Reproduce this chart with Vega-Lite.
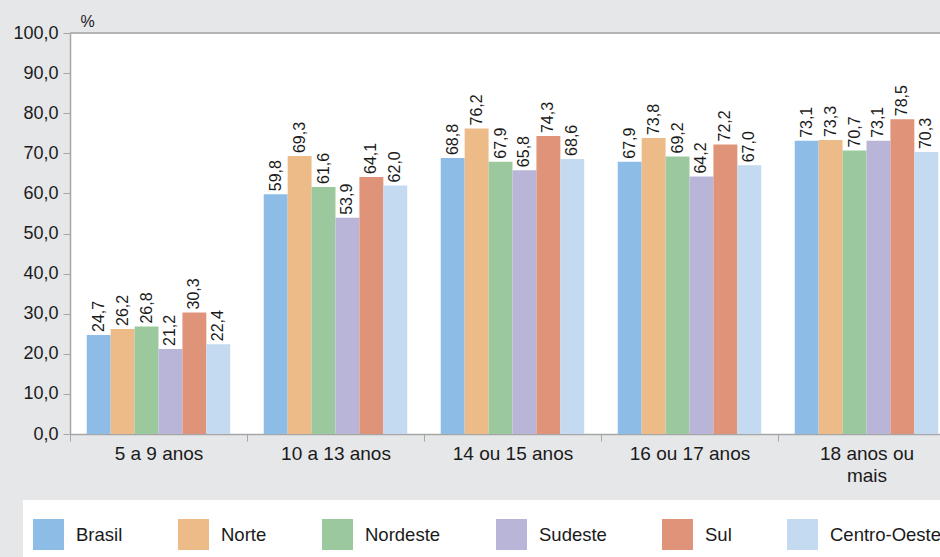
{
  "$schema": "https://vega.github.io/schema/vega-lite/v6.json",
  "width": 870,
  "height": 401,
  "autosize": {"type": "none"},
  "padding": {"left": 70, "top": 33, "right": 0, "bottom": 123},
  "background": "#e6e7e9",
  "config": {
    "locale": {"number": {"decimal": ",", "thousands": ".", "grouping": [3], "currency": ["R$", ""]}},
    "view": {"fill": "white", "stroke": null},
    "font": "Liberation Sans"
  },
  "data": {
    "values": [
      {"idade": "5 a 9 anos", "regiao": "Brasil", "valor": 24.7},
      {"idade": "5 a 9 anos", "regiao": "Norte", "valor": 26.2},
      {"idade": "5 a 9 anos", "regiao": "Nordeste", "valor": 26.8},
      {"idade": "5 a 9 anos", "regiao": "Sudeste", "valor": 21.2},
      {"idade": "5 a 9 anos", "regiao": "Sul", "valor": 30.3},
      {"idade": "5 a 9 anos", "regiao": "Centro-Oeste", "valor": 22.4},
      {"idade": "10 a 13 anos", "regiao": "Brasil", "valor": 59.8},
      {"idade": "10 a 13 anos", "regiao": "Norte", "valor": 69.3},
      {"idade": "10 a 13 anos", "regiao": "Nordeste", "valor": 61.6},
      {"idade": "10 a 13 anos", "regiao": "Sudeste", "valor": 53.9},
      {"idade": "10 a 13 anos", "regiao": "Sul", "valor": 64.1},
      {"idade": "10 a 13 anos", "regiao": "Centro-Oeste", "valor": 62.0},
      {"idade": "14 ou 15 anos", "regiao": "Brasil", "valor": 68.8},
      {"idade": "14 ou 15 anos", "regiao": "Norte", "valor": 76.2},
      {"idade": "14 ou 15 anos", "regiao": "Nordeste", "valor": 67.9},
      {"idade": "14 ou 15 anos", "regiao": "Sudeste", "valor": 65.8},
      {"idade": "14 ou 15 anos", "regiao": "Sul", "valor": 74.3},
      {"idade": "14 ou 15 anos", "regiao": "Centro-Oeste", "valor": 68.6},
      {"idade": "16 ou 17 anos", "regiao": "Brasil", "valor": 67.9},
      {"idade": "16 ou 17 anos", "regiao": "Norte", "valor": 73.8},
      {"idade": "16 ou 17 anos", "regiao": "Nordeste", "valor": 69.2},
      {"idade": "16 ou 17 anos", "regiao": "Sudeste", "valor": 64.2},
      {"idade": "16 ou 17 anos", "regiao": "Sul", "valor": 72.2},
      {"idade": "16 ou 17 anos", "regiao": "Centro-Oeste", "valor": 67.0},
      {"idade": "18 anos ou mais", "regiao": "Brasil", "valor": 73.1},
      {"idade": "18 anos ou mais", "regiao": "Norte", "valor": 73.3},
      {"idade": "18 anos ou mais", "regiao": "Nordeste", "valor": 70.7},
      {"idade": "18 anos ou mais", "regiao": "Sudeste", "valor": 73.1},
      {"idade": "18 anos ou mais", "regiao": "Sul", "valor": 78.5},
      {"idade": "18 anos ou mais", "regiao": "Centro-Oeste", "valor": 70.3}
    ]
  },
  "encoding": {
    "x": {
      "field": "idade",
      "type": "nominal",
      "sort": ["5 a 9 anos", "10 a 13 anos", "14 ou 15 anos", "16 ou 17 anos", "18 anos ou mais"],
      "scale": {"range": [0, 885], "paddingInner": 0, "paddingOuter": 0},
      "axis": {
        "title": null,
        "labelAngle": 0,
        "labelFontSize": 19,
        "labelColor": "#1a1a1a",
        "labelPadding": 3,
        "labelLineHeight": 22,
        "labelBaseline": "top",
        "tickOffset": -88.5,
        "labelOffset": 88.5,
        "tickSize": 7,
        "tickColor": "#a6a6a6",
        "domainColor": "#a6a6a6",
        "domainWidth": 1.5,
        "labelExpr": "datum.value == '18 anos ou mais' ? ['18 anos ou', 'mais'] : datum.label"
      }
    },
    "xOffset": {
      "field": "regiao",
      "type": "nominal",
      "sort": ["Brasil", "Norte", "Nordeste", "Sudeste", "Sul", "Centro-Oeste"],
      "scale": {"paddingOuter": 0.7, "paddingInner": 0}
    },
    "y": {
      "field": "valor",
      "type": "quantitative",
      "scale": {"domain": [0, 100], "nice": false},
      "axis": {
        "values": [0, 10, 20, 30, 40, 50, 60, 70, 80, 90, 100],
        "format": ".1f",
        "grid": false,
        "labelFontSize": 18,
        "labelColor": "#1a1a1a",
        "labelPadding": 5,
        "tickSize": 7,
        "tickColor": "#a6a6a6",
        "domainColor": "#a6a6a6",
        "domainWidth": 1.5,
        "title": "%",
        "titleAngle": 0,
        "titleAlign": "left",
        "titleBaseline": "alphabetic",
        "titleX": 10,
        "titleY": -7,
        "titleFontSize": 16,
        "titleFontWeight": "normal",
        "titleColor": "#1a1a1a"
      }
    }
  },
  "layer": [
    {
      "mark": {"type": "rule", "color": "#b3b3b3", "strokeWidth": 1.5},
      "encoding": {"x": null, "xOffset": null, "y": {"datum": 100}}
    },
    {
      "mark": {"type": "bar"},
      "encoding": {
        "color": {
          "field": "regiao",
          "type": "nominal",
          "sort": ["Brasil", "Norte", "Nordeste", "Sudeste", "Sul", "Centro-Oeste"],
          "scale": {
            "domain": ["Brasil", "Norte", "Nordeste", "Sudeste", "Sul", "Centro-Oeste"],
            "range": ["#8dbce6", "#ecbb88", "#9bc99d", "#b9b5d9", "#df947a", "#c3daf1"]
          },
          "legend": {
            "orient": "none",
            "legendX": -47,
            "legendY": 467,
            "direction": "horizontal",
            "columns": 6,
            "fillColor": "white",
            "padding": 10,
            "symbolType": "square",
            "symbolSize": 961,
            "symbolStrokeWidth": 0,
            "symbolOpacity": 1,
            "labelFontSize": 18.5,
            "labelColor": "#1a1a1a",
            "labelOffset": 12,
            "labelLimit": 0,
            "columnPadding": 55,
            "title": " ",
            "titleFontSize": 9,
            "titlePadding": 0
          }
        }
      }
    },
    {
      "mark": {"type": "text", "angle": 270, "align": "left", "baseline": "middle", "dx": 3, "fontSize": 16, "color": "#1a1a1a"},
      "encoding": {
        "text": {"field": "valor", "type": "quantitative", "format": ".1f"}
      }
    }
  ]
}
